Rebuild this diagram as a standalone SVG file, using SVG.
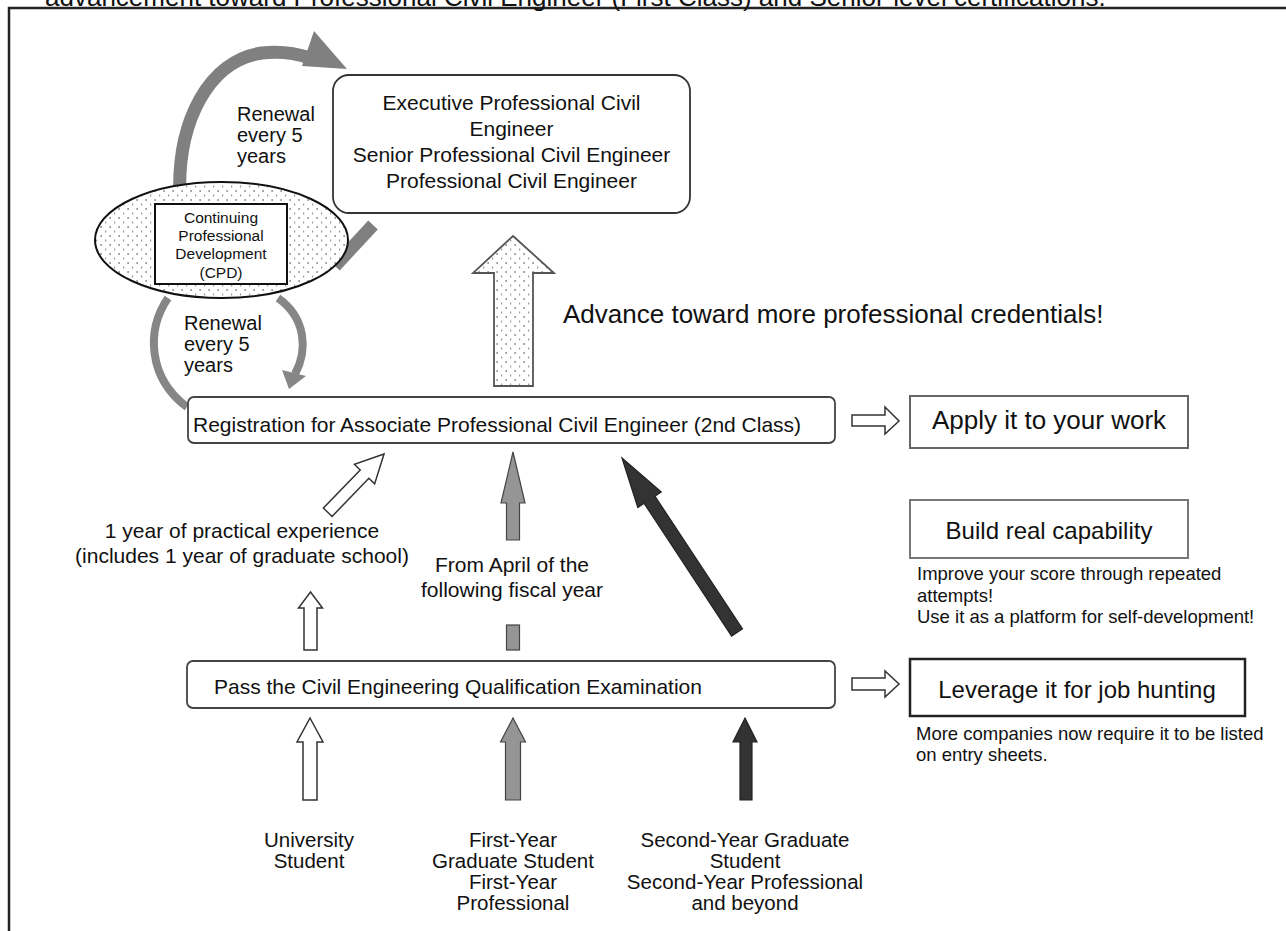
<svg xmlns="http://www.w3.org/2000/svg" width="1286" height="931" viewBox="0 0 1286 931">
<defs>
<pattern id="dots" width="9" height="9" patternUnits="userSpaceOnUse">
<rect width="9" height="9" fill="#fff"/>
<rect x="1.5" y="1" width="1.2" height="2" fill="#777"/>
<rect x="6" y="5.5" width="1.2" height="2" fill="#9a9a9a"/>
</pattern>
<style>
text{font-family:"Liberation Sans",Arial,Helvetica,sans-serif;fill:#111}
.t21{font-size:21px}
.t20{font-size:20px}
.b20{font-size:20.5px}
.sm{font-size:18.5px}
.c{text-anchor:middle}
.rbox{fill:#fff;stroke:#444;stroke-width:1.8}
.sbox{fill:#fff;stroke:#666;stroke-width:2}
.hollow{fill:#fff;stroke:#333;stroke-width:1.5;stroke-linejoin:miter}
.grayA{fill:#959595;stroke:#444;stroke-width:1.2}
.darkA{fill:#333;stroke:#222;stroke-width:1.2}
.band{fill:none;stroke:#808080;stroke-width:13}
.band2{fill:none;stroke:#868686;stroke-width:8}
</style>
</defs>
<rect width="1286" height="931" fill="#fff"/>
<g id="frame">
<rect x="9" y="8" width="1300" height="960" fill="none" stroke="#222" stroke-width="2.5"/>
</g>
<g id="title">
<text x="45" y="6" style="font-size:26px">advancement toward Professional Civil Engineer (First Class) and Senior-level certifications.</text>
</g>
<g id="connectors">
<path class="band" d="M 180 200 C 176 120, 210 60, 262 53 C 280 51, 295 53, 310 58"/>
<polygon points="314,31 347,69 302,66" fill="#808080"/>
<line x1="373" y1="225" x2="335" y2="266" stroke="#808080" stroke-width="13"/>
<path class="band2" d="M 168 298 C 146 330, 148 378, 187 407"/>
<path class="band2" d="M 278 298 C 306 318, 308 350, 295 374"/>
<polygon points="282,370 306,376 289,389" fill="#868686"/>
<polygon points="513,236 554,273 533,273 533,386 494,386 494,273 473,273" fill="url(#dots)" stroke="#555" stroke-width="1.8"/>
<polygon class="hollow" transform="translate(384,454) rotate(44)" points="0,0 14,28 6,28 6,81 -6,81 -6,28 -14,28"/>
<polygon class="darkA" transform="translate(622,458) rotate(-33.4)" points="0,0 14,50 6.5,50 6.5,209 -6.5,209 -6.5,50 -14,50"/>
<polygon class="grayA" points="513,452 525,503 519.5,503 519.5,540 506.5,540 506.5,503 501,503"/>
<rect class="grayA" x="506.5" y="625" width="13" height="25"/>
<polygon class="hollow" points="310.5,592 322.5,608 317,608 317,650 304,650 304,608 298.5,608"/>
<polygon class="hollow" points="310,718 323,742 317,742 317,800 303,800 303,742 297,742"/>
<polygon class="grayA" points="513,718 525.5,742 520.5,742 520.5,800 505.5,800 505.5,742 500.5,742"/>
<polygon class="darkA" points="745,718 757,742 752,742 752,800 740,800 740,742 733,742"/>
<polygon class="hollow" points="852,415 885,415 885,407 899,421 885,434 885,426 852,426"/>
<polygon class="hollow" points="852,678 885,678 885,671 899,684 885,697 885,690 852,690"/>
</g>
<g id="node-cpd">
<ellipse cx="221.5" cy="240" rx="126.5" ry="58" fill="url(#dots)" stroke="#111" stroke-width="2"/>
<rect x="155" y="204" width="132" height="80" fill="#fff" stroke="#111" stroke-width="2"/>
<text class="c" x="221" y="223" style="font-size:15.5px">Continuing</text>
<text class="c" x="221" y="241" style="font-size:15.5px">Professional</text>
<text class="c" x="221" y="259" style="font-size:15.5px">Development</text>
<text class="c" x="221" y="278" style="font-size:15.5px">(CPD)</text>
</g>
<g id="label-renewal-upper">
<text class="t20" x="237" y="121">Renewal</text>
<text class="t20" x="237" y="142">every 5</text>
<text class="t20" x="237" y="163">years</text>
</g>
<g id="label-renewal-lower">
<text class="t20" x="184" y="330">Renewal</text>
<text class="t20" x="184" y="351">every 5</text>
<text class="t20" x="184" y="372">years</text>
</g>
<g id="node-executive">
<rect x="333" y="75" width="357" height="138" rx="16" fill="#fff" stroke="#333" stroke-width="1.8"/>
<text class="t21 c" x="511.5" y="110">Executive Professional Civil</text>
<text class="t21 c" x="511.5" y="136">Engineer</text>
<text class="t21 c" x="511.5" y="162">Senior Professional Civil Engineer</text>
<text class="t21 c" x="511.5" y="188">Professional Civil Engineer</text>
</g>
<g id="label-advance">
<text x="563" y="323" style="font-size:26px">Advance toward more professional credentials!</text>
</g>
<g id="node-registration">
<rect class="rbox" x="188" y="397" width="647" height="46" rx="6"/>
<text class="t21" x="193" y="432">Registration for Associate Professional Civil Engineer (2nd Class)</text>
</g>
<g id="label-experience">
<text class="t21 c" x="242" y="538">1 year of practical experience</text>
<text class="t21 c" x="242" y="563">(includes 1 year of graduate school)</text>
</g>
<g id="label-april">
<text class="t21 c" x="512" y="572">From April of the</text>
<text class="t21 c" x="512" y="597">following fiscal year</text>
</g>
<g id="node-pass">
<rect class="rbox" x="187" y="661" width="648" height="47" rx="6"/>
<text class="t21" x="214" y="694">Pass the Civil Engineering Qualification Examination</text>
</g>
<g id="node-apply">
<rect class="sbox" x="910" y="396" width="278" height="52"/>
<text class="c" x="1049" y="429" style="font-size:26px">Apply it to your work</text>
</g>
<g id="node-build">
<rect class="sbox" x="910" y="500" width="278" height="58" style="stroke:#777"/>
<text class="c" x="1049" y="539" style="font-size:24px">Build real capability</text>
<text class="sm" x="917" y="580">Improve your score through repeated</text>
<text class="sm" x="917" y="602">attempts!</text>
<text class="sm" x="917" y="623">Use it as a platform for self-development!</text>
</g>
<g id="node-leverage">
<rect x="910" y="659" width="335" height="57" fill="#fff" stroke="#222" stroke-width="2.5"/>
<text class="c" x="1077" y="698" style="font-size:24px">Leverage it for job hunting</text>
<text class="sm" x="916" y="740">More companies now require it to be listed</text>
<text class="sm" x="916" y="761">on entry sheets.</text>
</g>
<g id="node-university">
<text class="b20 c" x="309" y="847">University</text>
<text class="b20 c" x="309" y="868">Student</text>
</g>
<g id="node-first-year">
<text class="b20 c" x="513" y="847">First-Year</text>
<text class="b20 c" x="513" y="868">Graduate Student</text>
<text class="b20 c" x="513" y="889">First-Year</text>
<text class="b20 c" x="513" y="910">Professional</text>
</g>
<g id="node-second-year">
<text class="b20 c" x="745" y="847">Second-Year Graduate</text>
<text class="b20 c" x="745" y="868">Student</text>
<text class="b20 c" x="745" y="889">Second-Year Professional</text>
<text class="b20 c" x="745" y="910">and beyond</text>
</g>
</svg>
